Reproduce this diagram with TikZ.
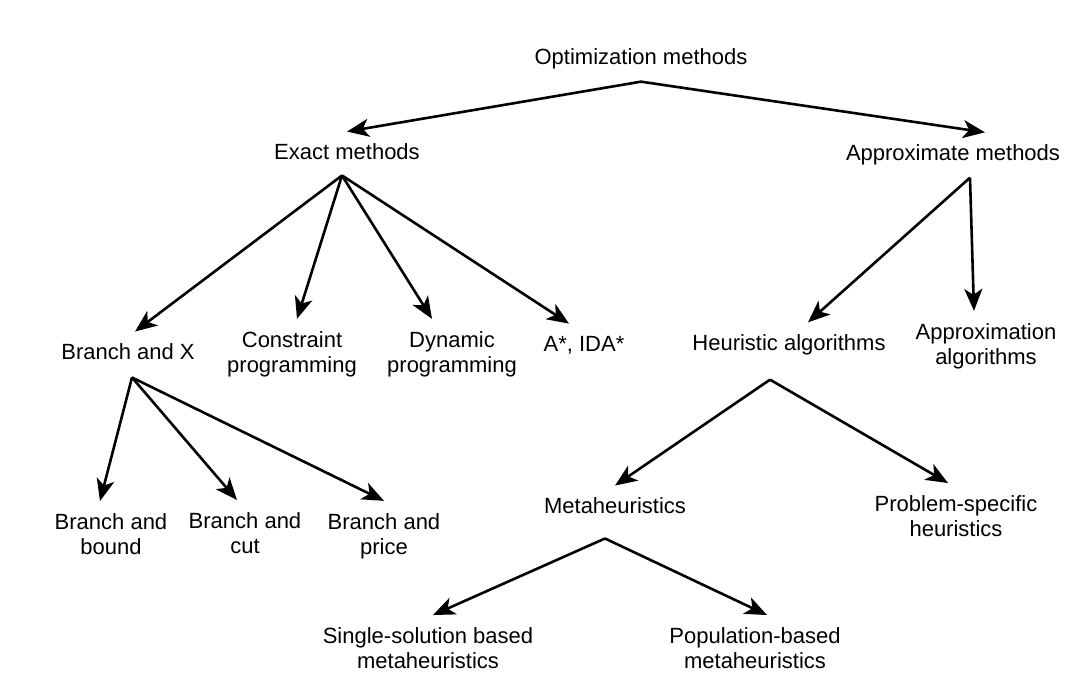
\documentclass[tikz,border=0pt]{standalone}
\usepackage{fontspec}
\setmainfont{Liberation Sans}
\usepackage{tikz}
\usetikzlibrary{arrows.meta}

\begin{document}
\begin{tikzpicture}[x=0.5pt,y=-0.5pt,
	every node/.style={align=center,inner xsep=2pt,inner ysep=6pt,font=\fontsize{11}{12.5}\selectfont},
	arr/.style={-{Stealth[length=11pt,width=9pt,inset=3pt]},line width=1.3pt}]
		\useasboundingbox (0,0) rectangle (1073,693);
		\node (opt) at (641, 59) {Optimization methods};
		\node (exact) at (347, 152) {Exact methods};
		\node (approx) at (953, 155) {Approximate methods};
		\node (bx) at (128, 352) {Branch and X};
		\node (cons) at (292, 354) {Constraint\\programming};
		\node (dyn) at (452, 354) {Dynamic\\programming};
		\node (astar) at (584, 345) {A*, IDA*};
		\node (heur) at (789, 345) {Heuristic algorithms};
		\node (apxalg) at (986, 346) {Approximation\\algorithms};
		\node (bbound) at (111, 534) {Branch and\\bound};
		\node (bcut) at (245, 533) {Branch and\\cut};
		\node (bprice) at (384, 536) {Branch and\\price};
		\node (meta) at (615, 506) {Metaheuristics};
		\node (probspec) at (956, 516) {Problem-specific\\heuristics};
		\node (single) at (428, 648) {Single-solution based\\metaheuristics};
		\node (popul) at (755, 648) {Population-based\\metaheuristics};
		% fork points under the parents
		\coordinate (exact-out) at ([xshift=-2.5pt,yshift=-1.5pt]exact.south);
		\coordinate (approx-out) at ([xshift=8.5pt]approx.south);
		\coordinate (bx-out) at ([xshift=2pt,yshift=-2.5pt]bx.south);
		\coordinate (heur-out) at ([xshift=-9.5pt,yshift=-6pt]heur.south);
		\coordinate (meta-out) at ([xshift=-5pt,yshift=-6pt]meta.south);
		\draw [arr] (opt.south) to (exact.north);
		\draw [arr] (opt.south) to ([xshift=16pt]approx.north);
		\draw [arr] (exact-out) to ([xshift=3.5pt]bx.north);
		\draw [arr] (exact-out) to ([xshift=2.5pt]cons.north);
		\draw [arr] (exact-out) to ([xshift=-10pt]dyn.north);
		\draw [arr] (exact-out) to ([xshift=-7.5pt]astar.north);
		\draw [arr] (approx-out) to ([xshift=9.5pt]heur.north);
		\draw [arr] (approx-out) to ([xshift=-6pt]apxalg.north);
		\draw [arr] (bx-out) to ([xshift=-5.5pt]bbound.north);
		\draw [arr] (bx-out) to ([xshift=-4pt]bcut.north);
		\draw [arr] (bx-out) to (bprice.north);
		\draw [arr] (heur-out) to (meta.north);
		\draw [arr] (heur-out) to ([xshift=-4pt]probspec.north);
		\draw [arr] (meta-out) to ([xshift=2.5pt]single.north);
		\draw [arr] (meta-out) to ([xshift=6pt]popul.north);
\end{tikzpicture}
\end{document}
